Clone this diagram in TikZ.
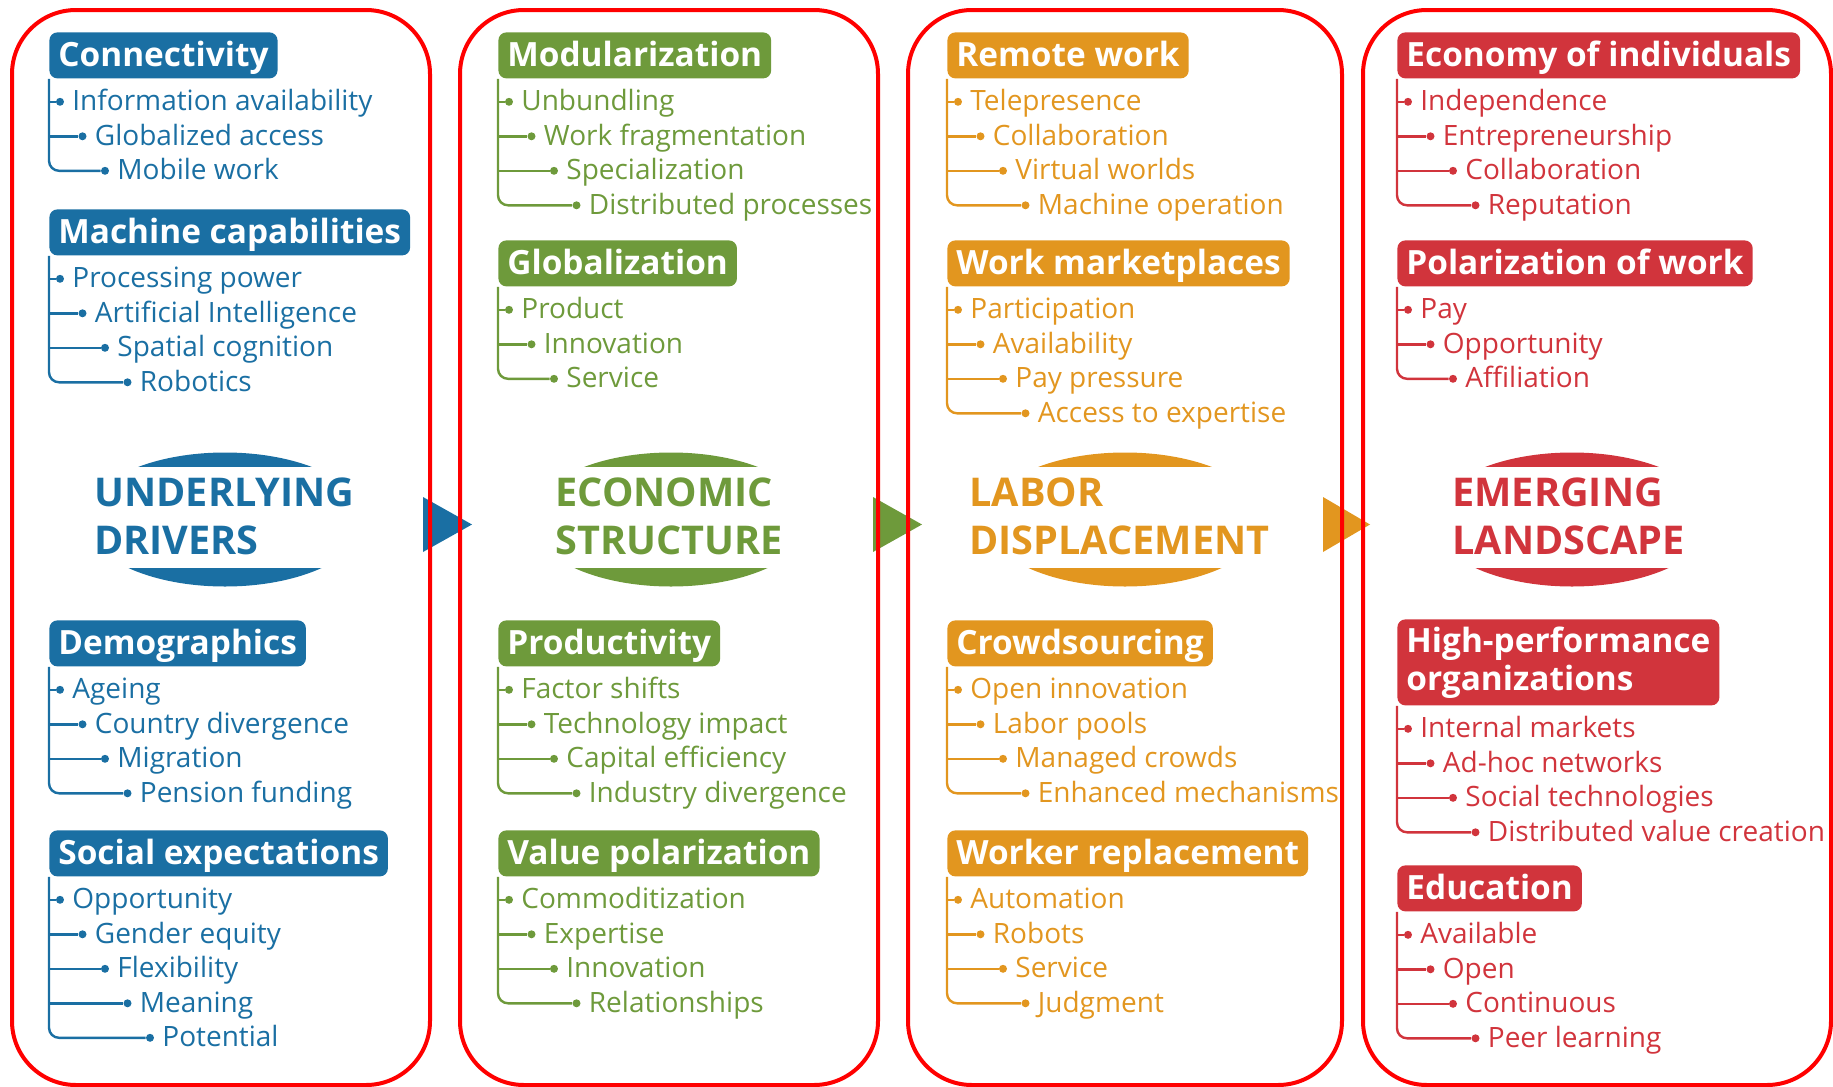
\documentclass[tikz,border=0pt]{standalone}
\usepackage{fontspec}
\setmainfont{Open Sans}
\usetikzlibrary{calc}
\definecolor{drvblue}{HTML}{1A6FA3}
\definecolor{ecogreen}{HTML}{6E9A3B}
\definecolor{laborange}{HTML}{E2961F}
\definecolor{landred}{HTML}{D1343C}
\definecolor{panelred}{HTML}{FF0000}

% one heading with its stepped list of items
\newcommand{\grouptree}[5]{%
  \node[hdr=#2, #1 hdr/.try] (#1) at (#3) {#4};
  \foreach \txt [count=\k] in {#5} {
    \node[dot=#2] (#1-\k) at ($(#1.south west)+(11+22.5*\k-22.5,23+34.5*\k-34.5)$) {};
    \node[item=#2] (#1-t\k) at ([xshift=6pt,yshift=-4.5pt]#1-\k.center) {\txt};
    \xdef\grouplast{\k}
  }
  \foreach \k in {1,...,\grouplast} {
    \ifnum\k<\grouplast\relax
      \draw[branch=#2] (#1.south west |- #1-\k) -- (#1-\k);
    \fi
  }
  \draw[branch=#2, rounded corners=5pt] (#1.south west) |- (#1-\grouplast);
}

\begin{document}
\begin{tikzpicture}[x=0.5pt, y=-0.5pt]
		\tikzset{
			panel/.style={draw=panelred, line width=2pt, rounded corners=32pt},
			hdr/.style={fill=#1, text=white, font=\fontsize{16.7}{19}\selectfont\bfseries,
				rounded corners=4pt, anchor=north west, inner xsep=4.5pt, inner ysep=2pt, align=left,
				text height=15pt, text depth=4pt},
			hpo hdr/.style={text height={}, text depth={}, minimum height=43pt},
			item/.style={text=#1, font=\fontsize{14}{17}\selectfont, anchor=base west, inner sep=0pt},
			dot/.style={circle, fill=#1, inner sep=0pt, minimum size=4pt},
			branch/.style={draw=#1, line width=1.2pt},
			title/.style={text=#1, font=\fontsize{19.8}{24}\selectfont\bfseries, align=left, anchor=north west, inner sep=0pt}
		}
		\useasboundingbox (0,0) rectangle (1833,1087);
		% arrows between the columns
		\fill[drvblue] (423,497) -- (472,524.5) -- (423,552) -- cycle;
		\fill[ecogreen] (873,497) -- (922,524.5) -- (873,552) -- cycle;
		\fill[laborange] (1323,497) -- (1370,524.5) -- (1323,552) -- cycle;
		% columns
		\draw[panel] (12,10) rectangle (430,1085);
		\draw[panel] (460,10) rectangle (878,1085);
		\draw[panel] (908,10) rectangle (1342,1085);
		\draw[panel] (1363,10) rectangle (1831,1085);
		% column titles
		\fill[drvblue] (225,519.5) ellipse [x radius=70pt, y radius=33.5pt];
		\fill[white] (84,467) rectangle (366,568);
		\node[title=drvblue] (drvtitle) at (94,477) {UNDERLYING\\DRIVERS};
		\fill[ecogreen] (671,519.5) ellipse [x radius=70pt, y radius=33.5pt];
		\fill[white] (530,467) rectangle (812,568);
		\node[title=ecogreen] (ecotitle) at (555,477) {ECONOMIC\\STRUCTURE};
		\fill[laborange] (1125,519.5) ellipse [x radius=70pt, y radius=33.5pt];
		\fill[white] (984,467) rectangle (1266,568);
		\node[title=laborange] (labtitle) at (969,477) {LABOR\\DISPLACEMENT};
		\fill[landred] (1572,519.5) ellipse [x radius=70pt, y radius=33.5pt];
		\fill[white] (1431,467) rectangle (1713,568);
		\node[title=landred] (landtitle) at (1452,477) {EMERGING\\LANDSCAPE};
		% underlying drivers
		\grouptree{conn}{drvblue}{49,32}{Connectivity}{Information availability,Globalized access,Mobile work}
		\grouptree{mach}{drvblue}{49,209}{Machine capabilities}{Processing power,Artificial Intelligence,Spatial cognition,Robotics}
		\grouptree{demo}{drvblue}{49,620}{Demographics}{Ageing,Country divergence,Migration,Pension funding}
		\grouptree{soc}{drvblue}{49,830}{Social expectations}{Opportunity,Gender equity,Flexibility,Meaning,Potential}
		% economic structure
		\grouptree{modu}{ecogreen}{498,32}{Modularization}{Unbundling,Work fragmentation,Specialization,Distributed processes}
		\grouptree{glob}{ecogreen}{498,240}{Globalization}{Product,Innovation,Service}
		\grouptree{prod}{ecogreen}{498,620}{Productivity}{Factor shifts,Technology impact,Capital efficiency,Industry divergence}
		\grouptree{valp}{ecogreen}{498,830}{Value polarization}{Commoditization,Expertise,Innovation,Relationships}
		% labor displacement
		\grouptree{remote}{laborange}{947,32}{Remote work}{Telepresence,Collaboration,Virtual worlds,Machine operation}
		\grouptree{market}{laborange}{947,240}{Work marketplaces}{Participation,Availability,Pay pressure,Access to expertise}
		\grouptree{crowd}{laborange}{947,620}{Crowdsourcing}{Open innovation,Labor pools,Managed crowds,Enhanced mechanisms}
		\grouptree{repl}{laborange}{947,830}{Worker replacement}{Automation,Robots,Service,Judgment}
		% emerging landscape
		\grouptree{econ}{landred}{1397,32}{Economy of individuals}{Independence,Entrepreneurship,Collaboration,Reputation}
		\grouptree{polar}{landred}{1397,240}{Polarization of work}{Pay,Opportunity,Affiliation}
		\grouptree{hpo}{landred}{1397,619}{High-performance\\organizations}{Internal markets,Ad-hoc networks,Social technologies,Distributed value creation}
		\grouptree{edu}{landred}{1397,865}{Education}{Available,Open,Continuous,Peer learning}
\end{tikzpicture}
\end{document}
